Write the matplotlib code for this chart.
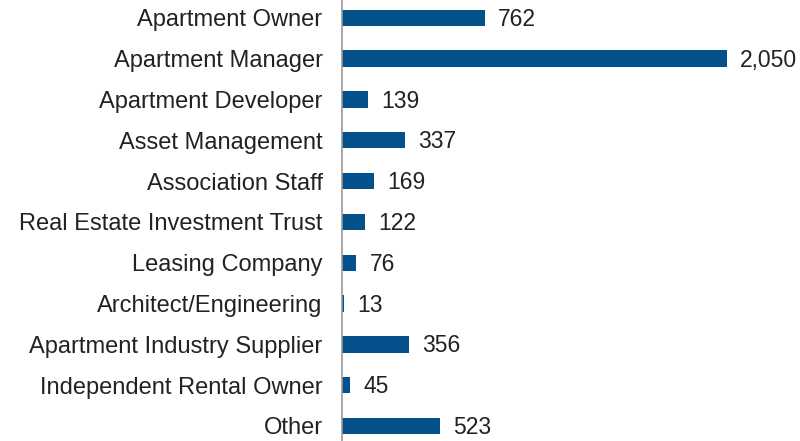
import matplotlib.pyplot as plt

categories = [
    "Apartment Owner", "Apartment Manager", "Apartment Developer",
    "Asset Management", "Association Staff", "Real Estate Investment Trust",
    "Leasing Company", "Architect/Engineering", "Apartment Industry Supplier",
    "Independent Rental Owner", "Other",
]
counts = [762, 2050, 139, 337, 169, 122, 76, 13, 356, 45, 523]

plt.rcParams['font.family'] = ['Liberation Sans', 'DejaVu Sans']

fig = plt.figure(figsize=(8, 4.41), dpi=100)
ax = fig.add_axes([0.4275, -0.0122, 0.5725, 1.018])

y = list(range(len(categories)))
ax.barh(y, counts, height=0.4, color='#03508a')
for yi, c in zip(y, counts):
    ax.text(c + 70, yi + 0.04, f"{c:,}", va='center', ha='left', fontsize=16.5, color='#222222')

ax.set_ylim(len(categories) - 0.5, -0.5)
ax.set_xlim(0, 2439)
ax.set_yticks(y)
ax.set_yticklabels(categories, fontsize=17, color='#222222')
ax.tick_params(axis='y', length=0, pad=14)
ax.set_xticks([])
for s in ['top', 'right', 'bottom']:
    ax.spines[s].set_visible(False)
ax.spines['left'].set_color('#999999')
ax.spines['left'].set_linewidth(1.2)

fig.savefig('out.png', dpi=100)
